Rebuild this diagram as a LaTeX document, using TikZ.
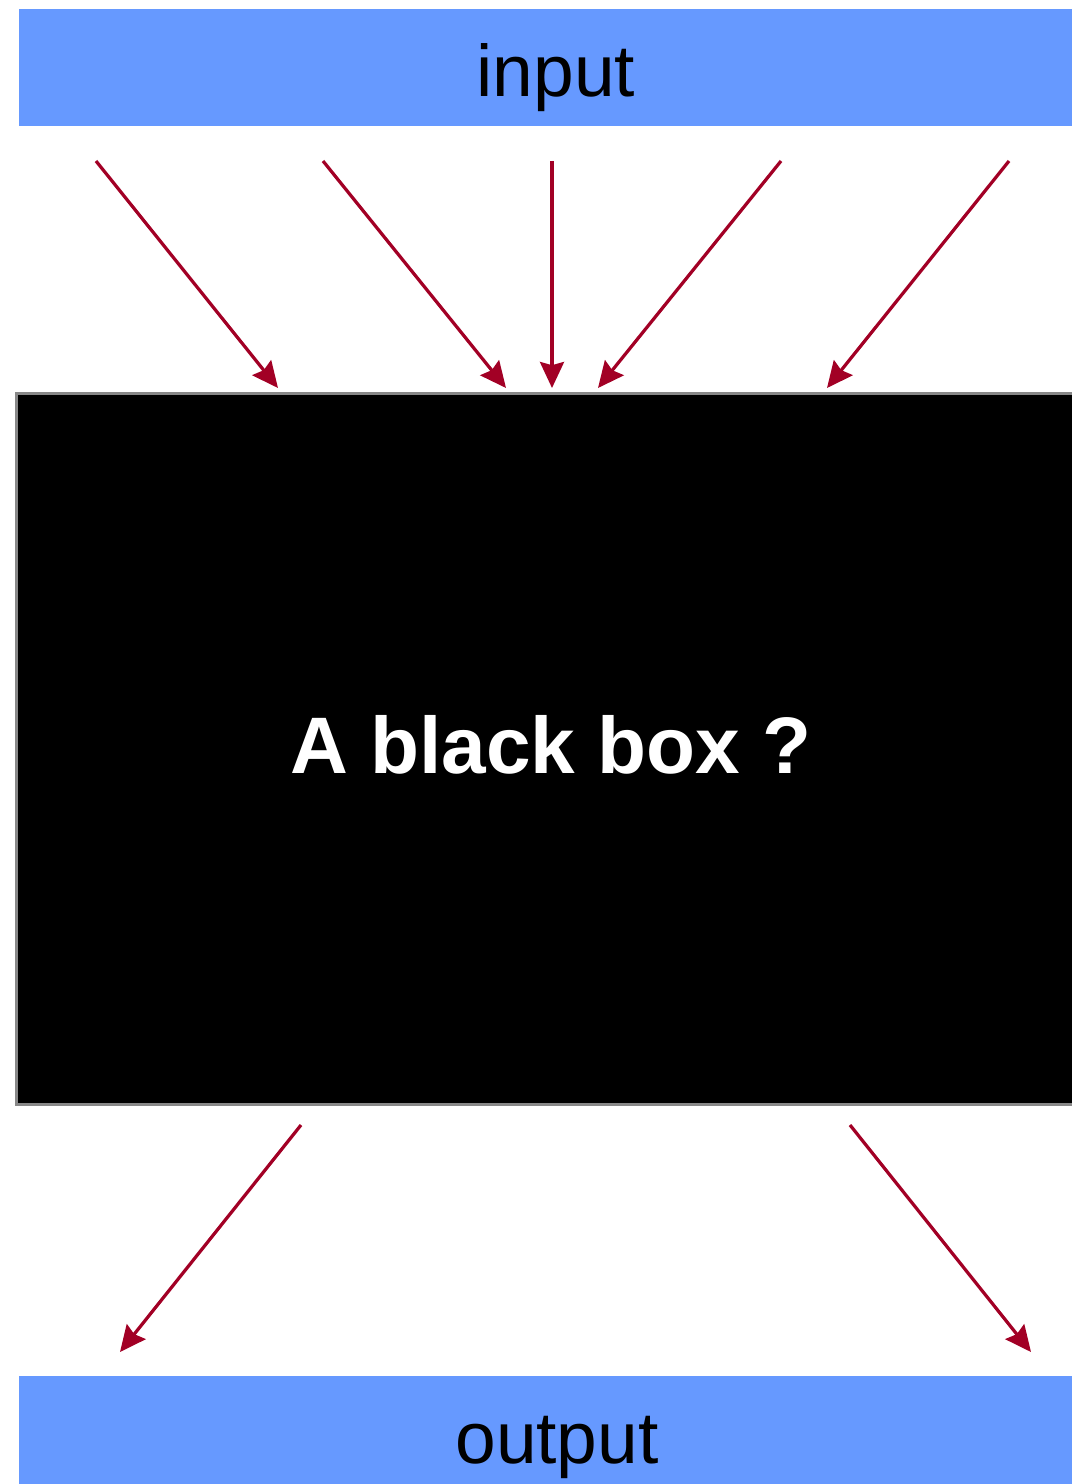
\documentclass[tikz,border=0pt]{standalone}
\usepackage{fontspec}
\setmainfont{Liberation Sans}
\usetikzlibrary{arrows.meta, positioning}
\definecolor{BarBlue}{RGB}{102,153,255}
\definecolor{ArrRed}{RGB}{162,0,37}
\definecolor{EdgeGr}{RGB}{136,136,136}

\begin{document}
\begin{tikzpicture}[
  x=0.025cm, y=-0.025cm,
  bar/.style={fill=BarBlue, inner sep=0pt, minimum width=#1,
              font=\fontsize{52}{60}\selectfont},
  blackbox/.style={fill=black, draw=EdgeGr, line width=2.1pt, inner sep=0pt,
                   minimum width=26.7cm, text=white,
                   font=\fontsize{57}{68}\selectfont\bfseries},
  flow/.style={-{Stealth[length=0.65cm, width=0.6cm, inset=0.08cm]},
               line width=2.3pt, draw=ArrRed, fill=ArrRed}
]
\useasboundingbox (0,0) rectangle (1071,1484);

% Bars and box
\node[bar=26.85cm, text height=2.175cm, text depth=0.75cm] (input) at (556,67.5) {input};
\node[blackbox, text height=9.475cm, text depth=8.275cm] (box) at (551,749) {A black box ?};
\node[bar=26.9cm, text height=2.175cm, text depth=0.925cm] (output) at (557,1438) {output};

% Incoming arrows
\foreach \i/\sx/\tx in {1/96/278, 2/323/506, 3/552/552, 4/781/598, 5/1009/827} {
  \coordinate (in\i) at (\sx,161);
  \coordinate (top\i) at (\tx,388);
  \draw[flow] (in\i) -- (top\i);
}

% Outgoing arrows
\coordinate (out1) at (301,1125);
\coordinate (bot1) at (120,1352);
\coordinate (out2) at (850,1125);
\coordinate (bot2) at (1031,1352);
\draw[flow] (out1) -- (bot1);
\draw[flow] (out2) -- (bot2);
\end{tikzpicture}
\end{document}
